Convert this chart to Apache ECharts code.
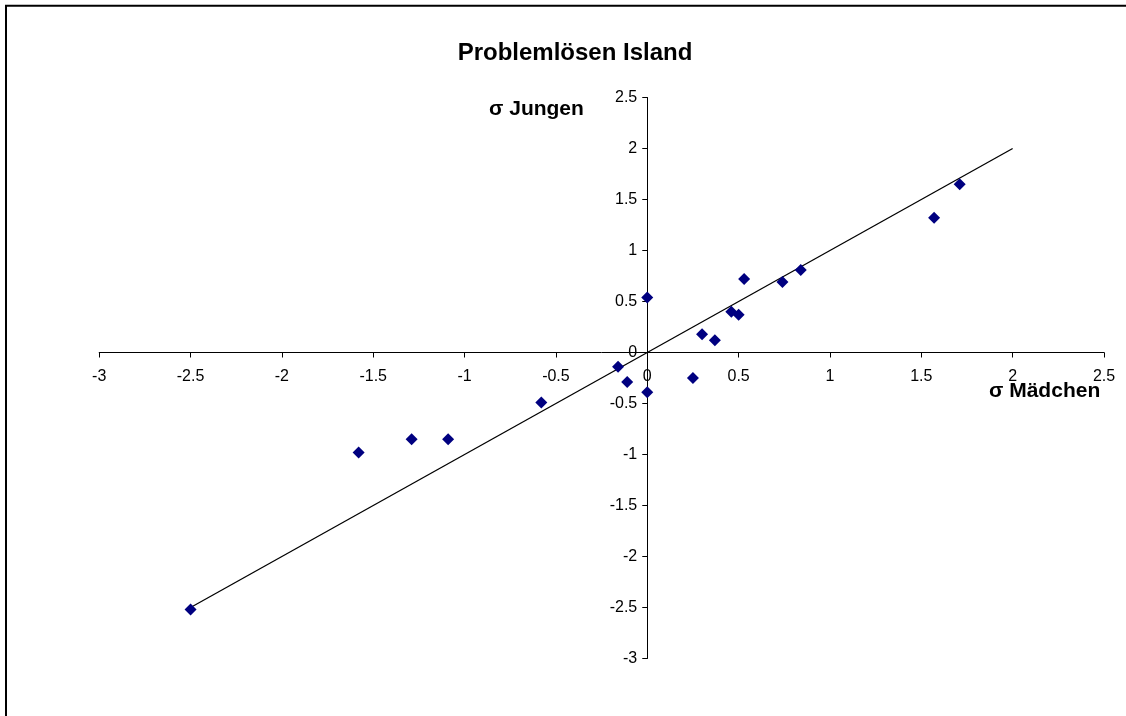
<!DOCTYPE html>
<html>
<head>
<meta charset="utf-8">
<script src="https://cdn.jsdelivr.net/npm/echarts@6/dist/echarts.min.js"></script>
<style>
  html, body { margin: 0; padding: 0; background: #fff; }
  #chart { width: 1126px; height: 716px; }
</style>
</head>
<body>
<div id="chart"></div>
<script>
// Standardised scores: girls (x) vs boys (y)
const girlsSigma = [-2.5, -1.58, -1.29, -1.09, -0.58, -0.16, -0.11, 0.0, 0.0, 0.25, 0.30, 0.37, 0.46, 0.50, 0.53, 0.74, 0.84, 1.57, 1.71];
const boysSigma  = [-2.52, -0.98, -0.85, -0.85, -0.49, -0.14, -0.29, 0.54, -0.39, -0.25, 0.18, 0.12, 0.40, 0.37, 0.72, 0.69, 0.81, 1.32, 1.65];

// Reference line y = x
const trendX = [-2.5, 2];
const trendY = [-2.5, 2];

const xTicks = [-3, -2.5, -2, -1.5, -1, -0.5, 0, 0.5, 1, 1.5, 2, 2.5];
const yTicks = [-3, -2.5, -2, -1.5, -1, -0.5, 0, 0.5, 1, 1.5, 2, 2.5];

const titleText = 'Problemlösen Island';
const xName = 'σ Mädchen';
const yName = 'σ Jungen';

const FONT = '"Liberation Sans", Arial, sans-serif';

// Plot area
const GRID = { left: 99.2, top: 97.5, width: 1004.8, height: 561 };

const xMin = xTicks[0], xMax = xTicks[xTicks.length - 1];
const yMin = yTicks[0], yMax = yTicks[yTicks.length - 1];

// Axes cross at the origin: shift each axis (line, ticks and labels together) onto zero
const xAxisOffset = -GRID.height * (0 - yMin) / (yMax - yMin);
const yAxisOffset = -GRID.width * (0 - xMin) / (xMax - xMin);

const chart = echarts.init(document.getElementById('chart'), null, { renderer: 'canvas' });

const axisCommon = {
  type: 'value',
  interval: 0.5,
  axisLine: { onZero: false, lineStyle: { color: '#000', width: 1 } },
  axisTick: { show: true, inside: false, length: 5, lineStyle: { color: '#000', width: 1 } },
  splitLine: { show: false },
  axisLabel: { color: '#000', fontSize: 16, fontFamily: FONT, showMinLabel: true, showMaxLabel: true }
};

chart.setOption({
  animation: false,
  backgroundColor: '#fff',
  title: {
    text: titleText,
    left: 570, top: 36, textAlign: 'center',
    textStyle: { fontFamily: FONT, fontWeight: 'bold', fontSize: 24, color: '#000' }
  },
  grid: Object.assign({ containLabel: false }, GRID),
  xAxis: Object.assign({}, axisCommon, {
    position: 'bottom',
    offset: xAxisOffset,
    min: xMin, max: xMax,
    axisLabel: Object.assign({}, axisCommon.axisLabel, { margin: 16 })
  }),
  yAxis: Object.assign({}, axisCommon, {
    position: 'left',
    offset: yAxisOffset,
    min: yMin, max: yMax,
    axisLabel: Object.assign({}, axisCommon.axisLabel, { margin: 10 })
  }),
  graphic: [
    { type: 'line', shape: { x1: 5, y1: 5.8, x2: 1126, y2: 5.8 }, style: { stroke: '#000', lineWidth: 2 } },
    { type: 'line', shape: { x1: 6, y1: 5, x2: 6, y2: 716 }, style: { stroke: '#000', lineWidth: 2 } },
    { type: 'text', left: 489, top: 99, style: { text: yName, font: 'bold 21px ' + FONT, fill: '#000' } },
    { type: 'text', left: 989, top: 381, style: { text: xName, font: 'bold 21px ' + FONT, fill: '#000' } }
  ],
  series: [
    {
      type: 'line',
      data: trendX.map((x, i) => [x, trendY[i]]),
      symbol: 'none',
      lineStyle: { color: '#000', width: 1.3 },
      z: 2
    },
    {
      type: 'scatter',
      data: girlsSigma.map((x, i) => [x, boysSigma[i]]),
      symbol: 'diamond',
      symbolSize: [12, 12],
      itemStyle: { color: '#000080', opacity: 1 },
      z: 3
    }
  ]
});
</script>
</body>
</html>
